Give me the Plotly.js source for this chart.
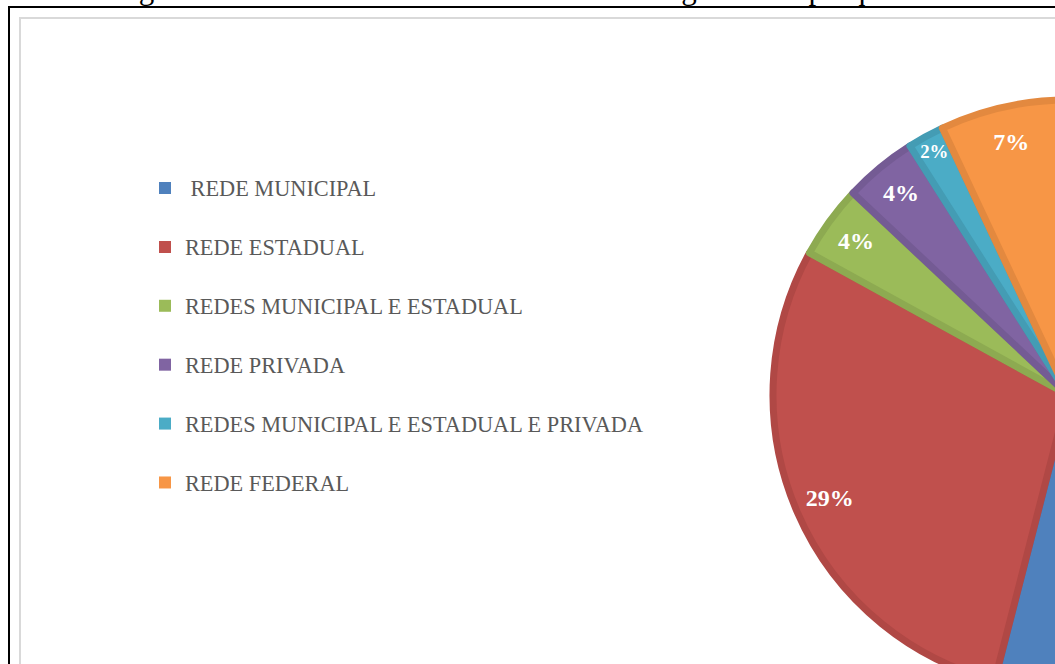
<!DOCTYPE html>
<html><head><meta charset="utf-8">
<script src="https://cdn.plot.ly/plotly-3.0.1.min.js"></script>
<style>
html,body{margin:0;padding:0;width:1055px;height:664px;overflow:hidden;background:#fff;}
#title{position:absolute;left:113px;top:-27.5px;font-family:'Liberation Serif',serif;font-size:31px;line-height:31px;white-space:nowrap;color:#000;}
#frame{position:absolute;left:8px;top:6px;width:1200px;height:800px;border-left:2px solid #000;border-top:2px solid #000;}
#area{position:absolute;left:19px;top:17px;width:1200px;height:800px;border-left:2px solid #d9d9d9;border-top:2px solid #d9d9d9;}
#chart{position:absolute;left:0;top:0;width:1600px;height:1100px;}
</style></head>
<body>
<div id="title">Figura 1 – Gráfico das redes de ensino investigadas nas pesquisas.</div>
<div id="frame"></div>
<div id="area"></div>
<div id="chart"></div>
<script>
// data
const categories = [' REDE MUNICIPAL', 'REDE ESTADUAL', 'REDES MUNICIPAL E ESTADUAL', 'REDE PRIVADA', 'REDES MUNICIPAL E ESTADUAL E PRIVADA', 'REDE FEDERAL'];
const percentages = [54, 29, 4, 4, 2, 7];

// styles
const sliceColors = ['#4f81bd', '#c0504d', '#9bbb59', '#8064a2', '#4bacc6', '#f79646'];
const edgeColors = ['#4873ab', '#b04845', '#8daa51', '#745b94', '#449cb4', '#e3893f'];

const W = 1600, H = 1100;
const cx = 1068, cy = 395, R = 295;
const dom = {x: [(cx - R) / W, (cx + R) / W], y: [(H - cy - R) / H, (H - cy + R) / H]};

// legend text: keep leading space, add an empty second line for row spacing
const legendLabels = categories.map(c =>
  '<span style="font-size:22.3px">' + c.replace(/^ /, '\u00a0') + '</span><br>\u00a0');

const common = {type: 'pie', values: percentages, labels: legendLabels, sort: false,
  direction: 'clockwise', rotation: 0, domain: dom, hoverinfo: 'skip'};

const traces = [
  Object.assign({}, common, {marker: {colors: sliceColors, line: {width: 0}}, textinfo: 'none', showlegend: true}),
  Object.assign({}, common, {marker: {colors: sliceColors, line: {color: edgeColors, width: 7}}, textinfo: 'none', showlegend: false}),
  Object.assign({}, common, {hole: 0.76, marker: {colors: sliceColors.map(() => 'rgba(0,0,0,0)'), line: {width: 0}},
    textposition: 'inside', insidetextorientation: 'horizontal', texttemplate: '%{percent:.0%}',
    textfont: {family: 'Liberation Serif', size: 24, color: '#ffffff', weight: 'bold'}, showlegend: false})
];

const layout = {
  width: W, height: H,
  margin: {l: 0, r: 0, t: 0, b: 0},
  paper_bgcolor: 'rgba(0,0,0,0)', plot_bgcolor: 'rgba(0,0,0,0)',
  showlegend: true,
  legend: {x: 145 / W, y: (H - 167.5) / H, xanchor: 'left', yanchor: 'top', valign: 'top',
    bgcolor: 'rgba(0,0,0,0)', borderwidth: 0,
    font: {family: 'Liberation Serif', size: 21.5, color: '#595959'}}
};

Plotly.newPlot('chart', traces, layout, {staticPlot: true, displayModeBar: false});
</script>
</body></html>
